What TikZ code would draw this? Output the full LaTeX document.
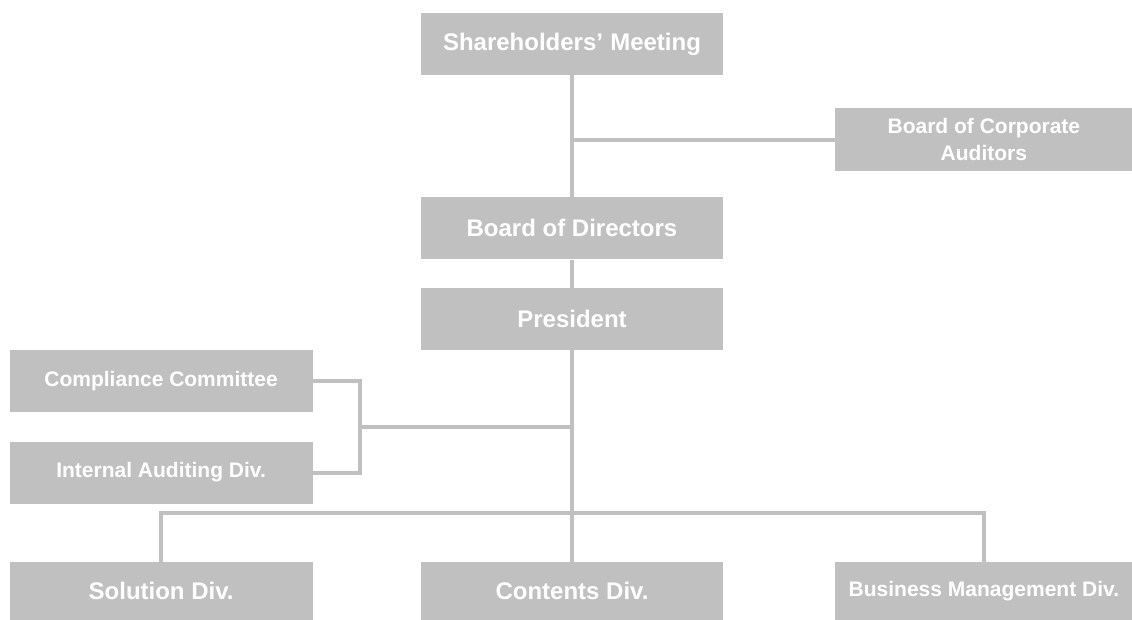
\documentclass[tikz,border=0pt]{standalone}
\usepackage{fontspec}
\setmainfont{Liberation Sans}
\usepackage{tikz}
\usetikzlibrary{positioning}
\definecolor{orggray}{RGB}{192,192,192}
\tikzset{
	orgbox/.style={rectangle, fill=orggray, text=white, inner sep=0pt,
		minimum width=302pt, minimum height=62pt, align=center},
	bigtext/.style={font=\fontsize{24}{28}\selectfont\bfseries},
	smalltext/.style={font=\fontsize{21}{27}\selectfont\bfseries},
	orglink/.style={draw=orggray, line width=4pt}
}

\begin{document}
\begin{tikzpicture}[x=1pt,y=-1pt]
		\useasboundingbox (0,0) rectangle (1132,619);
		\node [orgbox, bigtext] at (572,44) (share) {Shareholders’\hspace{0.3em}Meeting};
		\node [orgbox, bigtext, below=122pt of share] (board) {Board of Directors};
		\node [orgbox, bigtext, below=28pt of board] (pres) {President};
		\node [orgbox, smalltext, minimum width=297pt, minimum height=63pt, below right=33pt and 112pt of share] (audit) {Board of Corporate\\Auditors};
		\node [orgbox, smalltext, minimum width=303pt, below left=0pt and 108pt of pres] (comp) {Compliance Committee};
		\node [orgbox, smalltext, minimum width=303pt, below=29pt of comp] (inaud) {Internal Auditing Div.};
		\node [orgbox, bigtext, minimum height=58pt, below=212pt of pres] (cont) {Contents Div.};
		\node [orgbox, bigtext, minimum width=303pt, minimum height=58pt, left=108pt of cont] (sol) {Solution Div.};
		\node [orgbox, smalltext, minimum width=297pt, minimum height=58pt, right=112pt of cont] (biz) {Business Management Div.};
		\coordinate (fork) at (360,427);
		\coordinate (bus) at (572,513);
		\draw [orglink] (share) -- (board);
		\draw [orglink] (audit.west) -- (audit.west -| share.south);
		\draw [orglink] (board) -- (pres);
		\draw [orglink] (pres) -- (cont);
		\draw [orglink] (comp.east) -| (fork) |- (inaud.east);
		\draw [orglink] (fork) -- (fork -| pres.south);
		\draw [orglink] (sol.north) |- (bus) -| (biz.north);
		
		\end{tikzpicture}
\end{document}
